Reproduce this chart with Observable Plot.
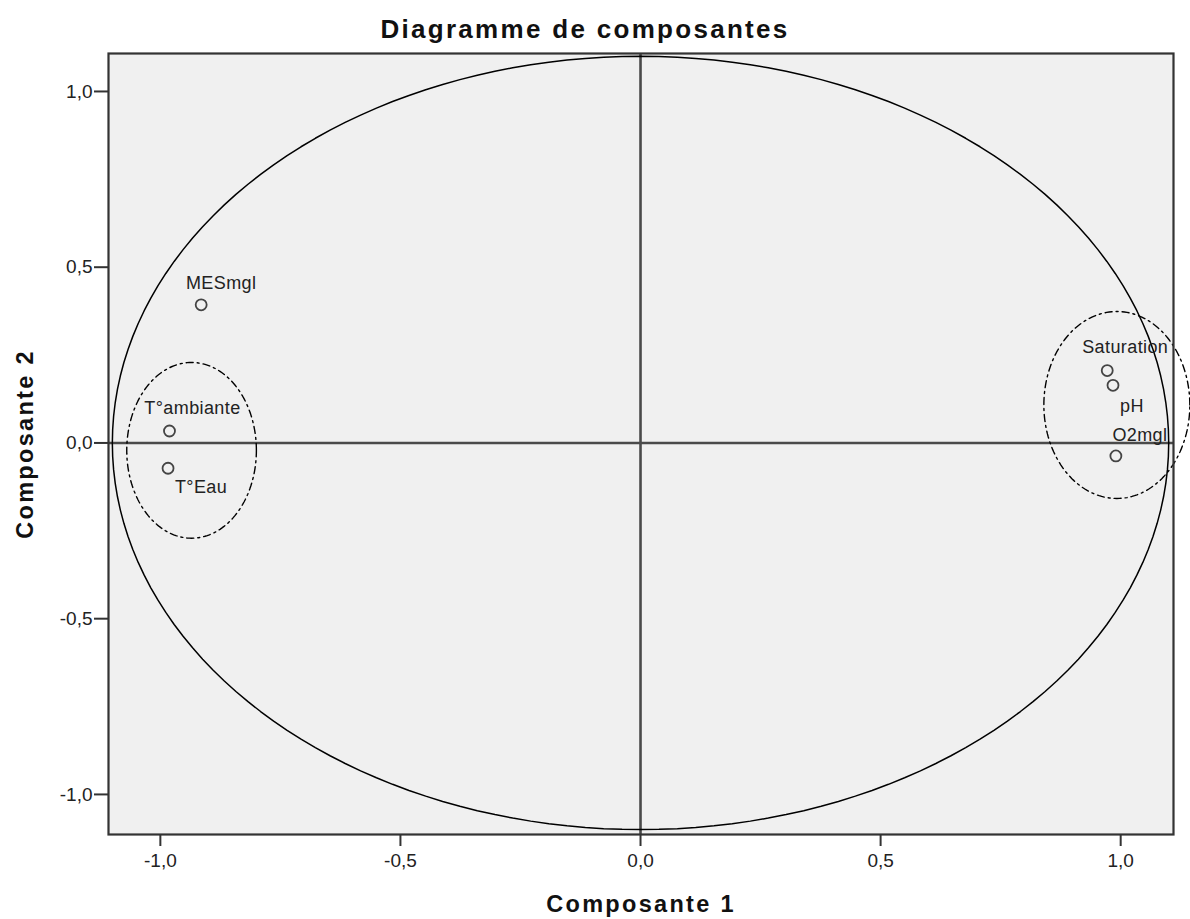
<!DOCTYPE html>
<html>
<head>
<meta charset="utf-8">
<script src="https://cdn.jsdelivr.net/npm/d3@7"></script>
<script src="https://cdn.jsdelivr.net/npm/@observablehq/plot@0.6"></script>
<style>
  html, body { margin: 0; padding: 0; background: #fff; }
  #chart svg { display: block; }
</style>
</head>
<body>
<div id="chart"></div>
<script>
// ---- Data ----
const variables = ["MESmgl", "T°ambiante", "T°Eau", "Saturation", "pH", "O2mgl"];
const composante1 = [-0.915, -0.981, -0.984, 0.972, 0.984, 0.990];
const composante2 = [0.393, 0.034, -0.072, 0.206, 0.164, -0.037];
const tickValues = [-1, -0.5, 0, 0.5, 1];
const titleText = "Diagramme de composantes";
const xLabelText = "Composante 1";
const yLabelText = "Composante 2";

// Reference circle and the two cluster outlines (centre / radii in data units)
const outlineName = ["cercle", "groupe gauche", "groupe droit"];
const outlineCx = [0, -0.935, 0.992];
const outlineCy = [0, -0.021, 0.108];
const outlineRx = [1.1, 0.135, 0.152];
const outlineRy = [1.1, 0.250, 0.266];

// ---- Build tables ----
const points = variables.map((name, i) => ({name, c1: composante1[i], c2: composante2[i]}));
function outlinePath(k) {
  const pts = [];
  for (let a = 0; a <= 360; a += 2) {
    const t = a * Math.PI / 180;
    pts.push({id: outlineName[k], x: outlineCx[k] + outlineRx[k] * Math.cos(t), y: outlineCy[k] + outlineRy[k] * Math.sin(t)});
  }
  return pts;
}
const bigCircle = outlinePath(0);
const clusters = [...outlinePath(1), ...outlinePath(2)];

// label placement (layout only)
const labelOffset = {
  "MESmgl": [20, -22], "T°ambiante": [23, -23], "T°Eau": [33, 19],
  "Saturation": [18, -23], "pH": [19, 21], "O2mgl": [24, -21]
};

const fmt = d => d.toFixed(1).replace(".", ",");
const font = "'Liberation Sans', Arial, sans-serif";

const labelMarks = points.map(p => Plot.text([p], {
  x: "c1", y: "c2", text: "name",
  dx: labelOffset[p.name][0], dy: labelOffset[p.name][1],
  fontSize: 18, fill: "#222"
}));

const chart = Plot.plot({
  width: 1190,
  height: 919,
  marginLeft: 108,
  marginRight: 17,
  marginTop: 53,
  marginBottom: 85,
  style: {fontFamily: font, background: "#fff", color: "#222", overflow: "visible"},
  x: {domain: [-1.108, 1.11]},
  y: {domain: [-1.114, 1.108]},
  marks: [
    Plot.frame({fill: "#f0f0f0", stroke: "none"}),
    Plot.ruleX([0], {stroke: "#4a4a4a", strokeWidth: 2.6}),
    Plot.ruleY([0], {stroke: "#4a4a4a", strokeWidth: 2.6}),
    Plot.line(bigCircle, {x: "x", y: "y", z: "id", stroke: "#000", strokeWidth: 1.5}),
    Plot.line(clusters, {x: "x", y: "y", z: "id", stroke: "#000", strokeWidth: 1.4, strokeDasharray: "7,4,2,4"}),
    Plot.dot(points, {x: "c1", y: "c2", r: 5.5, stroke: "#444", strokeWidth: 1.8, fill: "none"}),
    ...labelMarks,
    Plot.frame({stroke: "#333", strokeWidth: 2.2}),
    Plot.axisX({ticks: tickValues, tickFormat: fmt, tickSize: 12, tickPadding: 7, fontSize: 19, label: null, strokeWidth: 2, stroke: "#333"}),
    Plot.axisY({ticks: tickValues, tickFormat: fmt, tickSize: 14, tickPadding: 2, fontSize: 19, label: null, strokeWidth: 2, stroke: "#333"}),
    Plot.text([titleText], {frameAnchor: "top", textAnchor: "middle", lineAnchor: "middle", dx: -56, dy: -24, fontSize: 26, fontWeight: "bold", fill: "#111"}),
    Plot.text([xLabelText], {frameAnchor: "bottom", textAnchor: "middle", lineAnchor: "middle", dy: 70, fontSize: 23.5, fontWeight: "bold", fill: "#111"}),
    Plot.text([yLabelText], {frameAnchor: "left", textAnchor: "middle", lineAnchor: "middle", dx: -83, rotate: -90, fontSize: 23.5, fontWeight: "bold", fill: "#111"})
  ]
});

document.getElementById("chart").appendChild(chart);

// SPSS-like wide letter spacing for title and axis titles
d3.select(chart).selectAll("text")
  .filter(function() { return [titleText, xLabelText, yLabelText].includes(this.textContent); })
  .attr("letter-spacing", "2.3px");
d3.select(chart).selectAll("text")
  .filter(function() { return variables.includes(this.textContent); })
  .attr("letter-spacing", "0.4px");
</script>
</body>
</html>
